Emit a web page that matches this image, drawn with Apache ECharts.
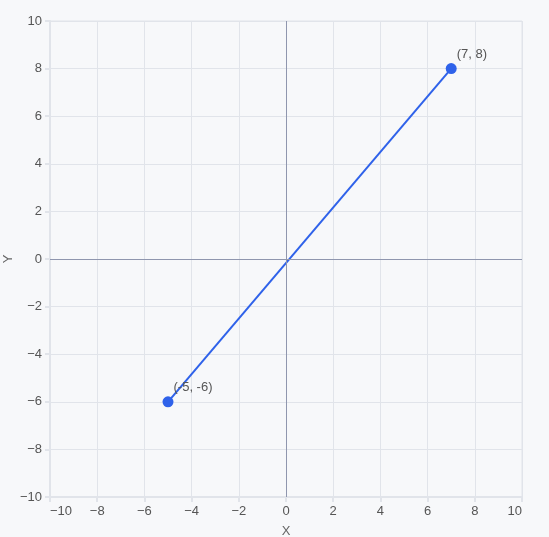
<!DOCTYPE html>
<html><head><meta charset="utf-8">
<script src="https://cdn.jsdelivr.net/npm/echarts@6/dist/echarts.min.js"></script>
<style>html,body{margin:0;padding:0;background:#f7f8fa}#c{width:549px;height:537px}</style>
</head><body><div id="c"></div>
<script>
const xs = [-5, 7];
const ys = [-6, 8];
const pointLabels = ['(-5, -6)', '(7, 8)'];
const axisMin = -10, axisMax = 10, axisStep = 2;
const lineColor = '#2f62ea';
const fmt = v => String(v).replace('-', '\u2212');
const chart = echarts.init(document.getElementById('c'));
const gridColor = '#e1e4ea';
const ff = 'Liberation Sans, Arial, sans-serif';
chart.setOption({
  backgroundColor: '#f7f8fa',
  animation: false,
  textStyle: {fontFamily: ff},
  grid: {left: 50, right: 27, top: 21, bottom: 40, show: true, borderColor: gridColor, borderWidth: 1,
    containLabel: false, outerBoundsMode: 'none'},
  xAxis: {
    type: 'value', min: axisMin, max: axisMax, interval: axisStep,
    name: 'X', nameLocation: 'middle', nameGap: 28, nameMoveOverlap: false,
    nameTextStyle: {color: '#666', fontSize: 13, fontFamily: ff},
    axisLine: {onZero: false, lineStyle: {color: gridColor, width: 2}},
    axisTick: {show: true, length: 5, lineStyle: {color: gridColor, width: 2}},
    axisLabel: {color: '#555', fontSize: 13, fontFamily: ff, formatter: fmt, alignMinLabel: 'left', alignMaxLabel: 'right', margin: 8},
    splitLine: {lineStyle: {color: gridColor, width: 1}}
  },
  yAxis: {
    type: 'value', min: axisMin, max: axisMax, interval: axisStep,
    name: 'Y', nameLocation: 'middle', nameGap: 35, nameMoveOverlap: false,
    nameTextStyle: {color: '#666', fontSize: 13, fontFamily: ff},
    axisLine: {show: true, onZero: false, lineStyle: {color: gridColor, width: 2}},
    axisTick: {show: true, length: 5, lineStyle: {color: gridColor, width: 2}},
    axisLabel: {color: '#555', fontSize: 13, fontFamily: ff, formatter: fmt, margin: 8},
    splitLine: {lineStyle: {color: gridColor, width: 1}}
  },
  series: [{
    type: 'line',
    data: xs.map((x, i) => [x, ys[i]]),
    symbol: 'circle', symbolSize: 11,
    lineStyle: {color: lineColor, width: 2},
    itemStyle: {color: lineColor},
    label: {show: true, position: 'right', offset: [-5, -14], color: '#555', fontSize: 13, fontFamily: ff,
      formatter: p => pointLabels[p.dataIndex]},
    markLine: {
      silent: true, symbol: 'none', label: {show: false},
      lineStyle: {color: '#8f96ae', width: 1, type: 'solid'},
      data: [{xAxis: 0}, {yAxis: 0}]
    }
  }]
});
</script></body></html>
